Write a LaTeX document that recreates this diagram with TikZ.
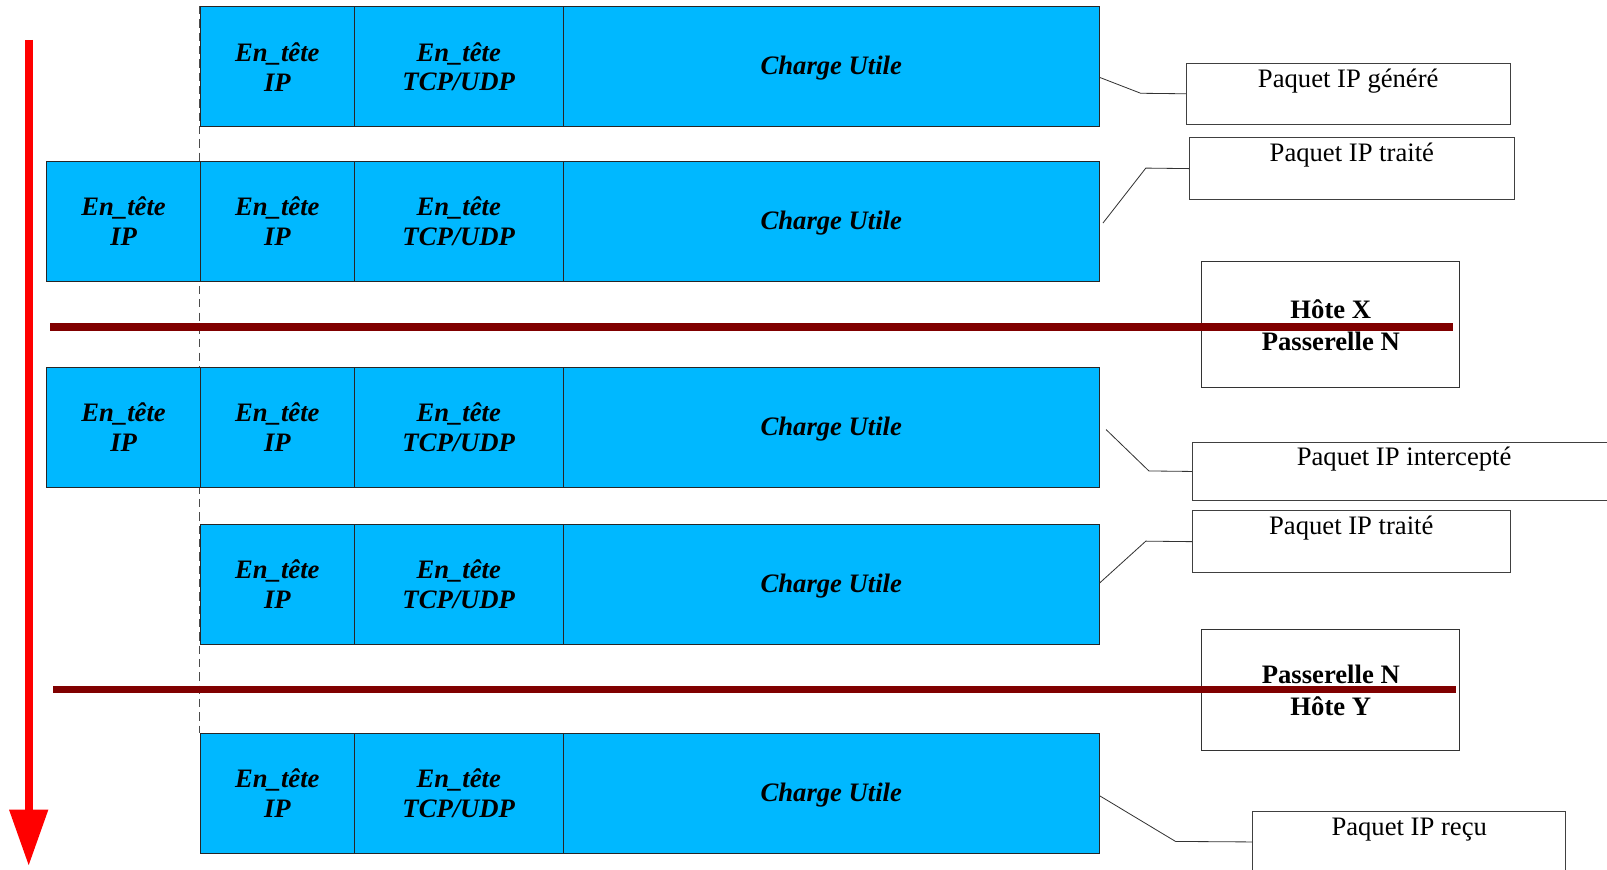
\documentclass[tikz,border=0pt]{standalone}
\usepackage{fontspec}
\setmainfont{Liberation Serif}
\usetikzlibrary{arrows.meta,calc}
\definecolor{cellblue}{RGB}{0,184,255}
\definecolor{netred}{RGB}{128,0,0}
\definecolor{arrred}{RGB}{255,0,0}
\begin{document}
\begin{tikzpicture}[x=0.5pt,y=-0.5pt,
  cell/.style={draw=black!85, line width=0.6pt, fill=cellblue, minimum height=58.5pt,
    inner sep=0pt, anchor=north west, align=center,
    font=\fontsize{13}{14.6}\selectfont\bfseries\itshape},
  ipw/.style={minimum width=75pt},
  tcpw/.style={minimum width=102pt},
  chw/.style={minimum width=261.5pt, text height=8.9pt, text depth=0.9pt},
  tag/.style={draw=black!75, line width=0.5pt, anchor=north west, minimum height=30pt, inner sep=0pt},
  tagtext/.style={anchor=base, inner sep=0pt, font=\fontsize{13}{15}\selectfont},
  host/.style={draw=black!80, line width=0.5pt, anchor=north west, minimum width=126pt,
    inner sep=0pt, align=center, font=\fontsize{13}{15.5}\selectfont\bfseries},
  leader/.style={draw=black!80, line width=0.4pt},
  netline/.style={draw=netred, line width=3.5pt},
  guide/.style={draw=black!70, line width=0.4pt, dash pattern=on 4pt off 2.5pt},
  timearrow/.style={draw=arrred, line width=4pt, -{Triangle[width=18pt,length=27.5pt]}}
]
\useasboundingbox (0,0) rectangle (1568,848);

% dashed guide
\coordinate (dA) at (195,6);
\coordinate (dB) at (195,715);
\draw[guide] (dA) -- (dB);

% row 1
\node[cell,ipw]  (r1a) at (195,6) {En\_tête\\IP};
\node[cell,tcpw] (r1b) at (345,6) {En\_tête\\TCP/UDP};
\node[cell,chw]  (r1c) at (549,6) {Charge Utile};
% row 2
\node[cell,ipw]  (r2o) at (45,157) {En\_tête\\IP};
\node[cell,ipw]  (r2a) at (195,157) {En\_tête\\IP};
\node[cell,tcpw] (r2b) at (345,157) {En\_tête\\TCP/UDP};
\node[cell,chw]  (r2c) at (549,157) {Charge Utile};
% row 3
\node[cell,ipw]  (r3o) at (45,358) {En\_tête\\IP};
\node[cell,ipw]  (r3a) at (195,358) {En\_tête\\IP};
\node[cell,tcpw] (r3b) at (345,358) {En\_tête\\TCP/UDP};
\node[cell,chw]  (r3c) at (549,358) {Charge Utile};
% row 4
\node[cell,ipw]  (r4a) at (195,511) {En\_tête\\IP};
\node[cell,tcpw] (r4b) at (345,511) {En\_tête\\TCP/UDP};
\node[cell,chw]  (r4c) at (549,511) {Charge Utile};
% row 5
\node[cell,ipw]  (r5a) at (195,715) {En\_tête\\IP};
\node[cell,tcpw] (r5b) at (345,715) {En\_tête\\TCP/UDP};
\node[cell,chw]  (r5c) at (549,715) {Charge Utile};

% time arrow
\coordinate (tA) at (28,39);
\coordinate (tB) at (28,845);
\draw[timearrow] (tA) -- (tB);

% tag boxes
\node[tag, minimum width=158pt] (g1) at (1157,61) {};
\node[tagtext] (g1t) at ($(g1.north)+(0,24)$) {Paquet IP généré};
\node[tag, minimum width=158.5pt] (t1) at (1160,134) {};
\node[tagtext] (t1t) at ($(t1.north)+(0,24)$) {Paquet IP traité};
\node[tag, minimum width=206.5pt, minimum height=28.5pt] (i1) at (1163,431) {};
\node[tagtext] (i1t) at ($(i1.north)+(0,23)$) {Paquet IP intercepté};
\node[tag, minimum width=155pt] (t2) at (1163,498) {};
\node[tagtext] (t2t) at ($(t2.north)+(0,24)$) {Paquet IP traité};
\node[tag, minimum width=152.5pt] (rc) at (1222,791) {};
\node[tagtext] (rct) at ($(rc.north)+(0,24)$) {Paquet IP reçu};

% leaders
\draw[leader] ($(r1c.east)+(0,10.5)$) -- (1113,91) -- (g1.west);
\draw[leader] ($(r2c.east)+(3,1.5)$) -- (1118,164) -- (t1.west);
\draw[leader] ($(r3c.east)+(6,2)$) -- (1121,459.5) -- (i1.west);
\draw[leader] ($(r4c.east)+(0,-1.5)$) -- (1118,528) -- (t2.west);
\draw[leader] ($(r5c.east)+(0,2.5)$) -- (1147,821) -- (rc.west);

% host boxes
\node[host, minimum height=61.5pt] (h1) at (1172,255) {Hôte X\\Passerelle N};
\node[host, minimum height=59pt] (h2) at (1172,614) {Passerelle N\\Hôte Y};

% network lines
\coordinate (n1a) at (49,319);
\coordinate (n1b) at (1418,319);
\draw[netline] (n1a) -- (n1b);
\coordinate (n2a) at (52,673);
\coordinate (n2b) at (1421,673);
\draw[netline] (n2a) -- (n2b);
\end{tikzpicture}
\end{document}
